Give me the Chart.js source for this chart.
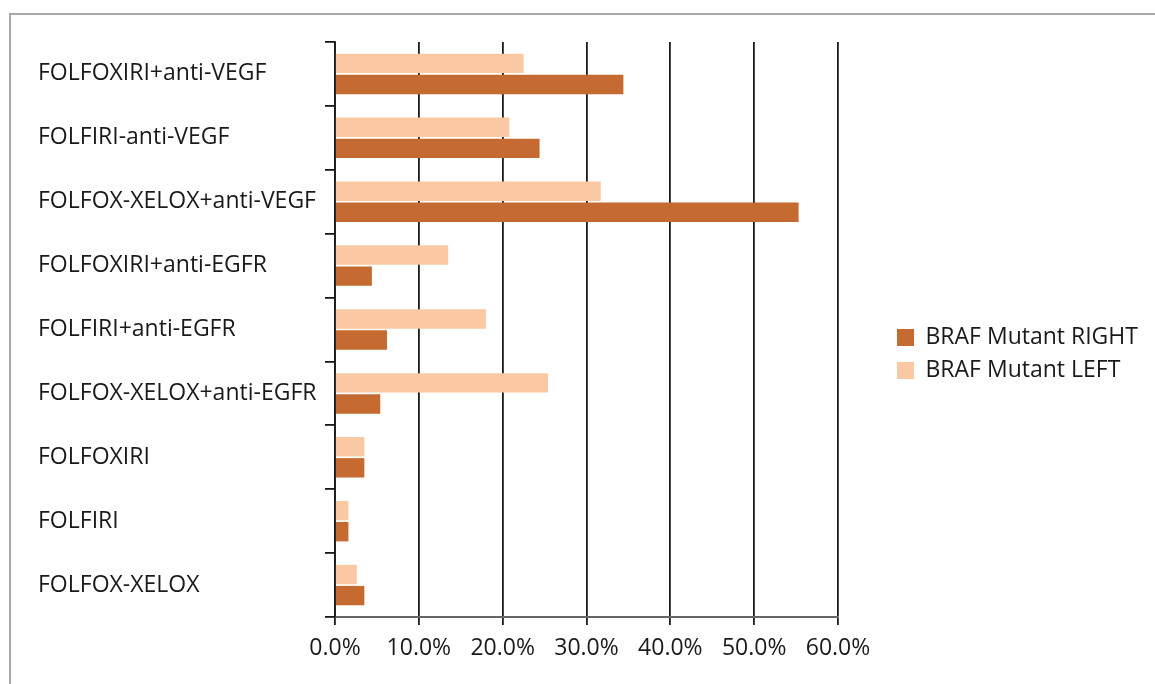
<!DOCTYPE html>
<html>
<head>
<meta charset="utf-8">
<script src="https://cdn.jsdelivr.net/npm/chart.js@4.4.0/dist/chart.umd.min.js"></script>
<style>
  body { margin: 0; background: #fff; }
  #wrap { width: 1155px; height: 684px; position: relative; }
</style>
</head>
<body>
<div id="wrap"><canvas id="barGrafico"></canvas></div>
<script>
// data (percent)
const categories = [
  'FOLFOXIRI+anti-VEGF',
  'FOLFIRI-anti-VEGF',
  'FOLFOX-XELOX+anti-VEGF',
  'FOLFOXIRI+anti-EGFR',
  'FOLFIRI+anti-EGFR',
  'FOLFOX-XELOX+anti-EGFR',
  'FOLFOXIRI',
  'FOLFIRI',
  'FOLFOX-XELOX'
];
const mutantLeft = [22.5, 20.8, 31.7, 13.5, 18.0, 25.4, 3.5, 1.6, 2.6];
const mutantRight = [34.4, 24.4, 55.3, 4.4, 6.2, 5.4, 3.5, 1.6, 3.5];
const xTicks = [0, 10, 20, 30, 40, 50, 60];

Chart.defaults.font.family = '"Open Sans", sans-serif';
Chart.defaults.font.size = 23;
Chart.defaults.color = '#1a1a1a';

// grey frame round the chart, like the original figure
const frame = {
  id: 'frame',
  beforeDraw(chart) {
    const ctx = chart.ctx;
    ctx.save();
    ctx.strokeStyle = '#a8a8a8';
    ctx.lineWidth = 2;
    ctx.beginPath();
    ctx.moveTo(10, chart.height);
    ctx.lineTo(10, 14);
    ctx.lineTo(chart.width, 14);
    ctx.stroke();
    ctx.restore();
  }
};

// nudge the legend away from the plot and give its text room
const legendShift = {
  id: 'legendShift',
  afterLayout(chart) {
    const l = chart.legend;
    l.left += 49;
    l.right = chart.width;
    l.width = l.right - l.left;
    l.top -= 9; l.bottom -= 9;
  }
};

let barGrafico = document.getElementById('barGrafico');
const config = {
  type: 'bar',
  data: {
    labels: categories,
    datasets: [
      { label: 'BRAF Mutant LEFT', data: mutantLeft, backgroundColor: 'rgb(250, 200, 162)', borderWidth: 0 },
      { label: 'BRAF Mutant RIGHT', data: mutantRight, backgroundColor: 'rgb(197, 106, 48)', borderWidth: 0 }
    ]
  },
  options: {
    indexAxis: 'y',
    responsive: true,
    maintainAspectRatio: false,
    animation: false,
    categoryPercentage: 0.66,
    barPercentage: 0.92,
    layout: { padding: { left: 38, top: 42, right: 117, bottom: 0 } },
    plugins: {
      tooltip: { enabled: false },
      legend: {
        position: 'right',
        reverse: true,
        maxWidth: 200,
        labels: { boxWidth: 17, boxHeight: 17, padding: 10, font: { size: 23 } }
      }
    },
    scales: {
      x: {
        min: 0,
        max: 60,
        afterBuildTicks: s => { s.ticks = xTicks.map(v => ({ value: v })); },
        afterFit: s => { s.height = 67; },
        grid: { color: '#1a1a1a', lineWidth: 1.8, tickLength: 8 },
        border: { color: '#666', width: 2 },
        ticks: { padding: 10, callback: v => v.toFixed(1) + '%' }
      },
      y: {
        afterFit: s => { s.width = 297; },
        grid: { drawOnChartArea: false, color: '#1a1a1a', lineWidth: 1.8, tickLength: 10 },
        border: { color: '#1a1a1a', width: 1.8 },
        ticks: { crossAlign: 'far', padding: 5 }
      }
    }
  },
  plugins: [frame, legendShift]
};

let myGraph = new Chart(barGrafico, config);
</script>
</body>
</html>
